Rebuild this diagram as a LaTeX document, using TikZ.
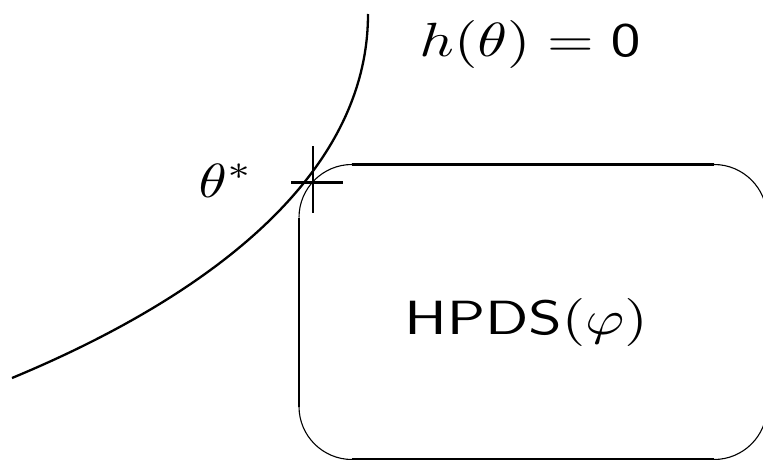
\documentclass[tikz,border=0pt]{standalone}
\begin{document}
\begin{tikzpicture}[x=1pt,y=-1pt,
  thickl/.style={line width=2.3pt},
  thinl/.style={line width=1.1pt},
  lbl/.style={anchor=base,inner sep=0pt,yscale=4.8,xscale=6.0,font=\fontsize{10}{12}\selectfont}]
\useasboundingbox (0,0) rectangle (763,460);
\clip (0,0) rectangle (763,460);
% curve h(theta)=0
\draw[thickl] (12,378) .. controls (200,300) and (368,180) .. (368,14);
% rounded region
\draw[thickl] (352,164.5) -- (714,164.5);
\draw[thinl] (714,164.5) arc[start angle=-90,end angle=0,radius=53];
\draw[thickl] (767,217.5) -- (767,406.5);
\draw[thinl] (767,406.5) arc[start angle=0,end angle=90,radius=53];
\draw[thickl] (714,459.5) -- (352,459.5);
\draw[thinl] (352,459.5) arc[start angle=90,end angle=180,radius=53];
\draw[thickl] (299,406.5) -- (299,217.5);
\draw[thinl] (299,217.5) arc[start angle=180,end angle=270,radius=53];
% cross at theta*
\coordinate (ts) at (313,182.5);
\draw[thickl] ([xshift=-22pt]ts) -- ([xshift=30pt]ts);
\draw[thickl] ([yshift=-30pt]ts) -- ([yshift=37pt]ts);
% labels
\node[lbl] (hlab) at (530,57) {$h(\theta)=\mathsf{0}$};
\node[lbl,xscale=5.7/6] (tlab) at (226,197) {$\theta^*$};
\node[lbl] (rlab) at (526,334) {$\mathsf{HPDS}(\varphi)$};
\end{tikzpicture}
\end{document}
